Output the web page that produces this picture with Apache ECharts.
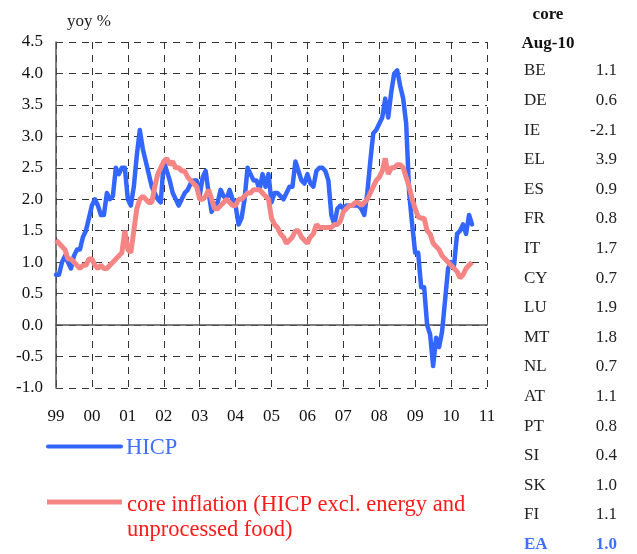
<!DOCTYPE html>
<html>
<head>
<meta charset="utf-8">
<title>HICP and core inflation</title>
<script src="https://cdn.jsdelivr.net/npm/echarts@6/dist/echarts.min.js"></script>
<style>
  html, body { margin: 0; padding: 0; background: #fff; }
  #chartmain { width: 637px; height: 554px; }
</style>
</head>
<body>
<div id="chartmain"></div>
<script>
// monthly yoy %, Jan 1999 - Aug 2010
var hicp = [
  0.8, 0.8, 1.0, 1.1, 1.0, 0.9, 1.1, 1.2, 1.2, 1.4, 1.5, 1.7,
  1.9, 2.0, 1.9, 1.75, 1.75, 2.1, 2.0, 2.05, 2.5, 2.4, 2.5, 2.5,
  2.0, 1.9, 2.2, 2.7, 3.1, 2.8, 2.6, 2.4, 2.2, 2.1, 2.0, 1.95,
  2.6, 2.45, 2.3, 2.1, 2.0, 1.9, 2.0, 2.1, 2.15, 2.25, 2.3, 2.3,
  2.05, 2.35, 2.45, 2.1, 1.8, 1.9, 1.95, 2.15, 2.05, 2.0, 2.15, 2.0,
  1.9, 1.6, 1.7, 2.0, 2.5, 2.4, 2.3, 2.3, 2.15, 2.4, 2.2, 2.4,
  1.95, 2.1, 2.1, 2.05, 2.0, 2.1, 2.2, 2.2, 2.6, 2.45, 2.3, 2.25,
  2.4, 2.25, 2.2, 2.45, 2.5, 2.5, 2.45, 2.3, 1.75, 1.6, 1.85, 1.9,
  1.85, 1.9, 1.9, 1.9, 1.9, 1.9, 1.85, 1.75, 2.1, 2.6, 3.05, 3.1,
  3.2, 3.3, 3.6, 3.3, 3.7, 4.0, 4.05, 3.8, 3.6, 3.2, 2.1, 1.6,
  1.15, 1.15, 0.6, 0.6, 0.0, -0.15, -0.65, -0.2, -0.35, -0.1, 0.4, 0.9,
  1.0, 0.95, 1.45, 1.5, 1.6, 1.45, 1.75, 1.6
];
var core = [
  1.35, 1.3, 1.25, 1.2, 1.05, 1.05, 1.0, 0.95, 0.9, 0.95, 0.95, 1.05,
  1.05, 0.95, 0.9, 0.95, 0.9, 0.9, 0.95, 1.0, 1.05, 1.1, 1.15, 1.5,
  1.2, 1.15, 1.5, 1.85, 2.0, 2.05, 2.0, 1.95, 1.95, 2.2, 2.4, 2.5,
  2.6, 2.65, 2.55, 2.6, 2.5, 2.5, 2.45, 2.45, 2.35, 2.3, 2.25, 2.2,
  2.0, 2.0, 2.05, 2.15, 2.0, 1.85, 1.85, 1.9, 1.95, 2.0, 1.95, 1.9,
  1.9, 2.0, 2.0, 2.05, 2.1, 2.1, 2.15, 2.15, 2.15, 2.1, 2.05, 2.0,
  1.7, 1.6, 1.55, 1.45, 1.4, 1.3, 1.35, 1.4, 1.5, 1.5, 1.4, 1.35,
  1.3, 1.4, 1.45, 1.6, 1.55, 1.55, 1.55, 1.55, 1.55, 1.6, 1.6, 1.65,
  1.8, 1.85, 1.9, 1.9, 1.95, 1.95, 1.9, 1.95, 2.0, 2.1, 2.2, 2.3,
  2.35, 2.45, 2.65, 2.4, 2.5, 2.5, 2.55, 2.55, 2.5, 2.35, 2.2, 2.0,
  1.85, 1.72, 1.7, 1.7, 1.5, 1.45, 1.3, 1.25, 1.2, 1.1, 1.05, 1.0,
  0.95, 0.9, 0.85, 0.75, 0.8, 0.9, 0.95, 1.0
];
var yearLabels = ['99', '00', '01', '02', '03', '04', '05', '06', '07', '08', '09', '10', '11'];

// core inflation by country, Aug-10
var countries = ['BE', 'DE', 'IE', 'EL', 'ES', 'FR', 'IT', 'CY', 'LU', 'MT', 'NL', 'AT', 'PT', 'SI', 'SK', 'FI', 'EA'];
var coreAug10 = ['1.1', '0.6', '-2.1', '3.9', '0.9', '0.8', '1.7', '0.7', '1.9', '1.8', '0.7', '1.1', '0.8', '0.4', '1.0', '1.1', '1.0'];

var serif = '"Liberation Serif", "DejaVu Serif", serif';
var blue = '#3366FF';
var pink = '#F58585';

var hicpData = [], coreData = [];
for (var i = 0; i < hicp.length; i++) hicpData.push([i, hicp[i]]);
for (var i = 0; i < core.length; i++) coreData.push([i, core[i]]);

var dash = { color: '#333', width: 1, type: [7, 6] };

// side table and legend
var graphics = [
  { type: 'text', left: 67, top: 13, style: { text: 'yoy %', font: '17px ' + serif, fill: '#222' } },
  { type: 'text', x: 548, y: 15, style: { text: 'core', font: 'bold 17px ' + serif, fill: '#111', align: 'center', verticalAlign: 'middle' } },
  { type: 'text', x: 548, y: 44, style: { text: 'Aug-10', font: 'bold 17px ' + serif, fill: '#111', align: 'center', verticalAlign: 'middle' } },
  { type: 'line', shape: { x1: 48, y1: 446.5, x2: 121, y2: 446.5 }, style: { stroke: blue, lineWidth: 4, lineCap: 'round' } },
  { type: 'text', x: 126, y: 448, style: { text: 'HICP', font: '22.5px ' + serif, fill: '#3F6FFF', verticalAlign: 'middle' } },
  { type: 'line', shape: { x1: 47, y1: 502, x2: 122, y2: 502 }, style: { stroke: pink, lineWidth: 5 } },
  { type: 'text', x: 127, y: 505, style: { text: 'core inflation (HICP excl. energy and', font: '22.5px ' + serif, fill: '#FF1A1A', verticalAlign: 'middle' } },
  { type: 'text', x: 127, y: 530, style: { text: 'unprocessed food)', font: '22.5px ' + serif, fill: '#FF1A1A', verticalAlign: 'middle' } }
];
for (var i = 0; i < countries.length; i++) {
  var isEA = countries[i] === 'EA';
  var rowY = 71 + i * 29.6;
  var f = (isEA ? 'bold ' : '') + '17px ' + serif;
  var c = isEA ? '#3F6FFF' : '#222';
  graphics.push({ type: 'text', x: 524, y: rowY, style: { text: countries[i], font: f, fill: c, verticalAlign: 'middle' } });
  graphics.push({ type: 'text', x: 617, y: rowY, style: { text: coreAug10[i], font: f, fill: c, align: 'right', verticalAlign: 'middle' } });
}

var option = {
  animation: false,
  backgroundColor: '#fff',
  grid: { left: 56, right: 150, top: 42, bottom: 166, containLabel: false },
  xAxis: [
    {
      type: 'value', min: 0, max: 144, interval: 12, position: 'bottom',
      axisLine: { show: true, onZero: true, lineStyle: { color: '#555', width: 1.5 } },
      axisTick: { show: true, inside: true, length: 4, lineStyle: { color: '#555' } },
      axisLabel: { show: false },
      splitLine: { show: true, lineStyle: dash }
    },
    {
      type: 'value', min: 0, max: 144, interval: 12, position: 'bottom',
      axisLine: { show: false, onZero: false },
      axisTick: { show: false },
      axisLabel: {
        show: true, margin: 20, fontFamily: serif, fontSize: 17, color: '#111',
        formatter: function (v) { return yearLabels[Math.round(v / 12)]; }
      },
      splitLine: { show: false }
    }
  ],
  yAxis: {
    type: 'value', min: -1, max: 4.5, interval: 0.5,
    axisLine: { show: true, lineStyle: { color: '#555', width: 1.5 } },
    axisTick: { show: true, inside: true, length: 5, lineStyle: { color: '#444' } },
    axisLabel: {
      margin: 13, fontFamily: serif, fontSize: 17, color: '#111',
      formatter: function (v) { return v.toFixed(1); }
    },
    splitLine: { show: true, lineStyle: dash }
  },
  series: [
    {
      name: 'HICP', type: 'line', xAxisIndex: 0, data: hicpData,
      showSymbol: false, smooth: false,
      lineStyle: { color: blue, width: 4.5, join: 'round', cap: 'round' },
      itemStyle: { color: blue },
      z: 3
    },
    {
      name: 'core inflation (HICP excl. energy and unprocessed food)', type: 'line', xAxisIndex: 0, data: coreData,
      showSymbol: false, smooth: false,
      lineStyle: { color: pink, width: 5 },
      itemStyle: { color: pink },
      z: 4
    }
  ],
  graphic: graphics
};

var myChart = echarts.init(document.getElementById('chartmain'));
myChart.setOption(option);
</script>
</body>
</html>
